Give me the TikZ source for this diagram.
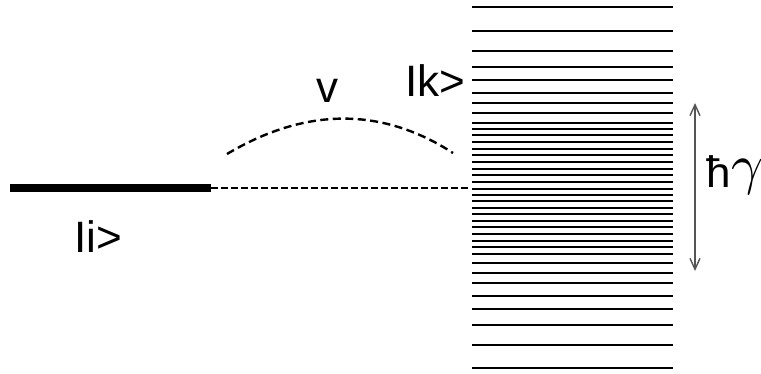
\documentclass[tikz,border=0pt]{standalone}
\usepackage{fontspec}
\usepackage{graphicx}
\setmainfont{Liberation Sans}
\usetikzlibrary{arrows.meta}
\definecolor{arrowgray}{HTML}{555555}
\tikzset{
  lbl/.style={inner sep=0pt, anchor=base west, font=\fontsize{44}{50}\selectfont},
  levelline/.style={line width=2pt, black},
  thickline/.style={line width=8pt, black},
  dashline/.style={line width=1.5pt, dash pattern=on 6.5pt off 3.5pt},
  couple/.style={line width=2.4pt, dash pattern=on 8pt off 4.5pt},
  widtharrow/.style={arrowgray, line width=1.4pt, {Straight Barb[length=11pt,width=10pt]}-{Straight Barb[length=11pt,width=10pt]}}
}
\begin{document}
\begin{tikzpicture}[x=1pt,y=-1pt]
\useasboundingbox (0,0) rectangle (761,374);
% discrete level |i>
\coordinate (iL) at (10,188);
\coordinate (iR) at (211,188);
\coordinate (kL) at (471,188);
\draw[thickline] (iL) -- (iR);
\draw[dashline] (iR) -- (kL);
% coupling arc
\coordinate (aL) at (227,154);
\coordinate (aR) at (453,153);
\draw[couple] (aL) .. controls (306,107) and (382,107) .. (aR);
% continuum levels
\foreach \yy in {7.3,30.7,50.7,66.7,80,92.7,102.7,112.7,122.7,128.7,135.3,142,148.7,155.3,162,168.7,175.3,182,188.7,194.7,201.3,208,214,220.7,227.3,234,240.7,247.3,254,263.3,272.7,282.7,296,309.3,325.3,345.3,368}
  \draw[levelline] (472,\yy) -- (673,\yy);
% width arrow
\coordinate (wT) at (695,103);
\coordinate (wB) at (695,271);
\draw[widtharrow] (wT) -- (wB);
% labels
\node[lbl] (li) at (74,253) {Ii>};
\node[lbl] (lk) at (405,97) {Ik>};
\node[lbl] (lv) at (316.5,103) {v};
\node[lbl] (lh) at (706,188) {ħ\kern0.5pt\raisebox{4pt}{\fontsize{10}{12}\selectfont\scalebox{5.6}{$\gamma$}}};
\end{tikzpicture}
\end{document}
